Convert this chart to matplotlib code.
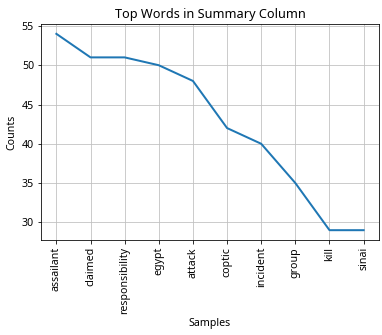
import matplotlib
matplotlib.use("Agg")
import matplotlib.pyplot as plt

plt.rcParams['font.family'] = ['Noto Sans', 'DejaVu Sans']
plt.rcParams['font.size'] = 10.6

words = ['assailant', 'claimed', 'responsibility', 'egypt', 'attack',
         'coptic', 'incident', 'group', 'kill', 'sinai']
counts = [54, 51, 51, 50, 48, 42, 40, 35, 29, 29]

fig = plt.figure(figsize=(382 / 72, 335 / 72), dpi=72)
ax = fig.add_axes([41 / 382, 1 - 240 / 335, 338 / 382, 216 / 335])

ax.plot(range(len(words)), counts, linewidth=2, color='tab:blue')
ax.grid(True, color='silver')
ax.set_xticks(range(len(words)))
ax.set_xticklabels(words, rotation=90)
ax.set_title('Top Words in Summary Column')
ax.set_xlabel('Samples')
ax.set_ylabel('Counts')

fig.savefig('out.png', dpi=72, facecolor='white')
